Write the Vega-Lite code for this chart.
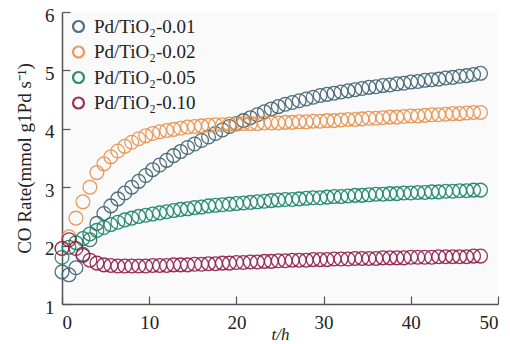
{
  "$schema": "https://vega.github.io/schema/vega-lite/v6.json",
  "width": 436,
  "height": 292,
  "autosize": {"type": "none"},
  "padding": {"left": 62, "top": 12, "right": 12, "bottom": 40},
  "background": "white",
  "config": {
    "view": {"fill": "#fafafa", "stroke": null},
    "font": "Liberation Serif"
  },
  "data": {
    "values": [
      {"s":"0.01","t":0,"v":1.55},{"s":"0.01","t":0.8,"v":1.5},{"s":"0.01","t":1.6,"v":1.62},{"s":"0.01","t":2.4,"v":1.85},{"s":"0.01","t":3.2,"v":2.1},{"s":"0.01","t":4,"v":2.38},{"s":"0.01","t":4.8,"v":2.55},{"s":"0.01","t":5.6,"v":2.68},{"s":"0.01","t":6.4,"v":2.8},{"s":"0.01","t":7.2,"v":2.9},{"s":"0.01","t":8,"v":3.0},{"s":"0.01","t":8.8,"v":3.1},{"s":"0.01","t":9.6,"v":3.2},{"s":"0.01","t":10.4,"v":3.3},{"s":"0.01","t":11.2,"v":3.38},{"s":"0.01","t":12,"v":3.46},{"s":"0.01","t":12.8,"v":3.54},{"s":"0.01","t":13.6,"v":3.61},{"s":"0.01","t":14.4,"v":3.68},{"s":"0.01","t":15.2,"v":3.74},{"s":"0.01","t":16,"v":3.8},{"s":"0.01","t":16.8,"v":3.86},{"s":"0.01","t":17.6,"v":3.92},{"s":"0.01","t":18.4,"v":3.98},{"s":"0.01","t":19.2,"v":4.04},{"s":"0.01","t":20,"v":4.09},{"s":"0.01","t":20.8,"v":4.14},{"s":"0.01","t":21.6,"v":4.19},{"s":"0.01","t":22.4,"v":4.24},{"s":"0.01","t":23.2,"v":4.29},{"s":"0.01","t":24,"v":4.34},{"s":"0.01","t":24.8,"v":4.38},{"s":"0.01","t":25.6,"v":4.42},{"s":"0.01","t":26.4,"v":4.45},{"s":"0.01","t":27.2,"v":4.48},{"s":"0.01","t":28,"v":4.51},{"s":"0.01","t":28.8,"v":4.54},{"s":"0.01","t":29.6,"v":4.57},{"s":"0.01","t":30.4,"v":4.59},{"s":"0.01","t":31.2,"v":4.61},{"s":"0.01","t":32,"v":4.63},{"s":"0.01","t":32.8,"v":4.65},{"s":"0.01","t":33.6,"v":4.67},{"s":"0.01","t":34.4,"v":4.69},{"s":"0.01","t":35.2,"v":4.71},{"s":"0.01","t":36,"v":4.72},{"s":"0.01","t":36.8,"v":4.74},{"s":"0.01","t":37.6,"v":4.75},{"s":"0.01","t":38.4,"v":4.77},{"s":"0.01","t":39.2,"v":4.78},{"s":"0.01","t":40,"v":4.8},{"s":"0.01","t":40.8,"v":4.81},{"s":"0.01","t":41.6,"v":4.83},{"s":"0.01","t":42.4,"v":4.84},{"s":"0.01","t":43.2,"v":4.85},{"s":"0.01","t":44,"v":4.87},{"s":"0.01","t":44.8,"v":4.88},{"s":"0.01","t":45.6,"v":4.9},{"s":"0.01","t":46.4,"v":4.91},{"s":"0.01","t":47.2,"v":4.93},{"s":"0.01","t":48,"v":4.95},
      {"s":"0.02","t":0,"v":1.95},{"s":"0.02","t":0.8,"v":2.15},{"s":"0.02","t":1.6,"v":2.47},{"s":"0.02","t":2.4,"v":2.75},{"s":"0.02","t":3.2,"v":3.0},{"s":"0.02","t":4,"v":3.25},{"s":"0.02","t":4.8,"v":3.4},{"s":"0.02","t":5.6,"v":3.52},{"s":"0.02","t":6.4,"v":3.62},{"s":"0.02","t":7.2,"v":3.7},{"s":"0.02","t":8,"v":3.77},{"s":"0.02","t":8.8,"v":3.83},{"s":"0.02","t":9.6,"v":3.88},{"s":"0.02","t":10.4,"v":3.92},{"s":"0.02","t":11.2,"v":3.95},{"s":"0.02","t":12,"v":3.97},{"s":"0.02","t":12.8,"v":3.99},{"s":"0.02","t":13.6,"v":4.01},{"s":"0.02","t":14.4,"v":4.03},{"s":"0.02","t":15.2,"v":4.04},{"s":"0.02","t":16,"v":4.05},{"s":"0.02","t":16.8,"v":4.06},{"s":"0.02","t":17.6,"v":4.07},{"s":"0.02","t":18.4,"v":4.07},{"s":"0.02","t":19.2,"v":4.08},{"s":"0.02","t":20,"v":4.08},{"s":"0.02","t":20.8,"v":4.09},{"s":"0.02","t":21.6,"v":4.09},{"s":"0.02","t":22.4,"v":4.09},{"s":"0.02","t":23.2,"v":4.1},{"s":"0.02","t":24,"v":4.1},{"s":"0.02","t":24.8,"v":4.1},{"s":"0.02","t":25.6,"v":4.11},{"s":"0.02","t":26.4,"v":4.11},{"s":"0.02","t":27.2,"v":4.12},{"s":"0.02","t":28,"v":4.12},{"s":"0.02","t":28.8,"v":4.13},{"s":"0.02","t":29.6,"v":4.13},{"s":"0.02","t":30.4,"v":4.14},{"s":"0.02","t":31.2,"v":4.14},{"s":"0.02","t":32,"v":4.15},{"s":"0.02","t":32.8,"v":4.16},{"s":"0.02","t":33.6,"v":4.16},{"s":"0.02","t":34.4,"v":4.17},{"s":"0.02","t":35.2,"v":4.18},{"s":"0.02","t":36,"v":4.18},{"s":"0.02","t":36.8,"v":4.19},{"s":"0.02","t":37.6,"v":4.2},{"s":"0.02","t":38.4,"v":4.2},{"s":"0.02","t":39.2,"v":4.21},{"s":"0.02","t":40,"v":4.22},{"s":"0.02","t":40.8,"v":4.22},{"s":"0.02","t":41.6,"v":4.23},{"s":"0.02","t":42.4,"v":4.24},{"s":"0.02","t":43.2,"v":4.24},{"s":"0.02","t":44,"v":4.25},{"s":"0.02","t":44.8,"v":4.26},{"s":"0.02","t":45.6,"v":4.26},{"s":"0.02","t":46.4,"v":4.27},{"s":"0.02","t":47.2,"v":4.28},{"s":"0.02","t":48,"v":4.28},
      {"s":"0.05","t":0,"v":1.8},{"s":"0.05","t":0.8,"v":1.97},{"s":"0.05","t":1.6,"v":2.05},{"s":"0.05","t":2.4,"v":2.12},{"s":"0.05","t":3.2,"v":2.2},{"s":"0.05","t":4,"v":2.26},{"s":"0.05","t":4.8,"v":2.31},{"s":"0.05","t":5.6,"v":2.36},{"s":"0.05","t":6.4,"v":2.4},{"s":"0.05","t":7.2,"v":2.44},{"s":"0.05","t":8,"v":2.47},{"s":"0.05","t":8.8,"v":2.5},{"s":"0.05","t":9.6,"v":2.52},{"s":"0.05","t":10.4,"v":2.54},{"s":"0.05","t":11.2,"v":2.56},{"s":"0.05","t":12,"v":2.58},{"s":"0.05","t":12.8,"v":2.6},{"s":"0.05","t":13.6,"v":2.62},{"s":"0.05","t":14.4,"v":2.63},{"s":"0.05","t":15.2,"v":2.65},{"s":"0.05","t":16,"v":2.66},{"s":"0.05","t":16.8,"v":2.68},{"s":"0.05","t":17.6,"v":2.69},{"s":"0.05","t":18.4,"v":2.7},{"s":"0.05","t":19.2,"v":2.71},{"s":"0.05","t":20,"v":2.72},{"s":"0.05","t":20.8,"v":2.73},{"s":"0.05","t":21.6,"v":2.74},{"s":"0.05","t":22.4,"v":2.75},{"s":"0.05","t":23.2,"v":2.76},{"s":"0.05","t":24,"v":2.77},{"s":"0.05","t":24.8,"v":2.78},{"s":"0.05","t":25.6,"v":2.79},{"s":"0.05","t":26.4,"v":2.79},{"s":"0.05","t":27.2,"v":2.8},{"s":"0.05","t":28,"v":2.81},{"s":"0.05","t":28.8,"v":2.82},{"s":"0.05","t":29.6,"v":2.82},{"s":"0.05","t":30.4,"v":2.83},{"s":"0.05","t":31.2,"v":2.84},{"s":"0.05","t":32,"v":2.84},{"s":"0.05","t":32.8,"v":2.85},{"s":"0.05","t":33.6,"v":2.86},{"s":"0.05","t":34.4,"v":2.86},{"s":"0.05","t":35.2,"v":2.87},{"s":"0.05","t":36,"v":2.88},{"s":"0.05","t":36.8,"v":2.88},{"s":"0.05","t":37.6,"v":2.89},{"s":"0.05","t":38.4,"v":2.89},{"s":"0.05","t":39.2,"v":2.9},{"s":"0.05","t":40,"v":2.9},{"s":"0.05","t":40.8,"v":2.91},{"s":"0.05","t":41.6,"v":2.91},{"s":"0.05","t":42.4,"v":2.92},{"s":"0.05","t":43.2,"v":2.92},{"s":"0.05","t":44,"v":2.93},{"s":"0.05","t":44.8,"v":2.93},{"s":"0.05","t":45.6,"v":2.94},{"s":"0.05","t":46.4,"v":2.94},{"s":"0.05","t":47.2,"v":2.95},{"s":"0.05","t":48,"v":2.95},
      {"s":"0.10","t":0,"v":1.95},{"s":"0.10","t":0.8,"v":2.1},{"s":"0.10","t":1.6,"v":1.95},{"s":"0.10","t":2.4,"v":1.83},{"s":"0.10","t":3.2,"v":1.75},{"s":"0.10","t":4,"v":1.7},{"s":"0.10","t":4.8,"v":1.67},{"s":"0.10","t":5.6,"v":1.66},{"s":"0.10","t":6.4,"v":1.65},{"s":"0.10","t":7.2,"v":1.65},{"s":"0.10","t":8,"v":1.65},{"s":"0.10","t":8.8,"v":1.65},{"s":"0.10","t":9.6,"v":1.65},{"s":"0.10","t":10.4,"v":1.66},{"s":"0.10","t":11.2,"v":1.66},{"s":"0.10","t":12,"v":1.66},{"s":"0.10","t":12.8,"v":1.67},{"s":"0.10","t":13.6,"v":1.67},{"s":"0.10","t":14.4,"v":1.67},{"s":"0.10","t":15.2,"v":1.68},{"s":"0.10","t":16,"v":1.68},{"s":"0.10","t":16.8,"v":1.69},{"s":"0.10","t":17.6,"v":1.69},{"s":"0.10","t":18.4,"v":1.7},{"s":"0.10","t":19.2,"v":1.7},{"s":"0.10","t":20,"v":1.71},{"s":"0.10","t":20.8,"v":1.71},{"s":"0.10","t":21.6,"v":1.72},{"s":"0.10","t":22.4,"v":1.72},{"s":"0.10","t":23.2,"v":1.73},{"s":"0.10","t":24,"v":1.73},{"s":"0.10","t":24.8,"v":1.74},{"s":"0.10","t":25.6,"v":1.74},{"s":"0.10","t":26.4,"v":1.75},{"s":"0.10","t":27.2,"v":1.75},{"s":"0.10","t":28,"v":1.75},{"s":"0.10","t":28.8,"v":1.76},{"s":"0.10","t":29.6,"v":1.76},{"s":"0.10","t":30.4,"v":1.76},{"s":"0.10","t":31.2,"v":1.77},{"s":"0.10","t":32,"v":1.77},{"s":"0.10","t":32.8,"v":1.77},{"s":"0.10","t":33.6,"v":1.78},{"s":"0.10","t":34.4,"v":1.78},{"s":"0.10","t":35.2,"v":1.78},{"s":"0.10","t":36,"v":1.78},{"s":"0.10","t":36.8,"v":1.79},{"s":"0.10","t":37.6,"v":1.79},{"s":"0.10","t":38.4,"v":1.79},{"s":"0.10","t":39.2,"v":1.79},{"s":"0.10","t":40,"v":1.8},{"s":"0.10","t":40.8,"v":1.8},{"s":"0.10","t":41.6,"v":1.8},{"s":"0.10","t":42.4,"v":1.8},{"s":"0.10","t":43.2,"v":1.81},{"s":"0.10","t":44,"v":1.81},{"s":"0.10","t":44.8,"v":1.81},{"s":"0.10","t":45.6,"v":1.81},{"s":"0.10","t":46.4,"v":1.81},{"s":"0.10","t":47.2,"v":1.82},{"s":"0.10","t":48,"v":1.82}
    ]
  },
  "mark": {"type": "point", "shape": "circle", "filled": false, "size": 190, "strokeWidth": 1.3, "opacity": 0.9},
  "encoding": {
    "x": {
      "field": "t", "type": "quantitative",
      "scale": {"domain": [0, 50], "nice": false, "zero": false},
      "axis": {
        "values": [0, 10, 20, 30, 40, 50],
        "title": "t/h",
        "titleFont": "Liberation Serif", "titleFontStyle": "italic", "titleFontWeight": "normal", "titleFontSize": 17, "titleColor": "#222",
        "titleY": 35, "titleBaseline": "alphabetic",
        "labelFont": "Liberation Serif", "labelFontSize": 19, "labelColor": "#222", "labelPadding": 17,
        "tickSize": -8, "tickColor": "#555", "tickWidth": 1.2,
        "domainColor": "#555", "domainWidth": 1.5,
        "grid": false
      }
    },
    "y": {
      "field": "v", "type": "quantitative",
      "scale": {"domain": [1, 6], "nice": false, "zero": false},
      "axis": {
        "values": [1, 2, 3, 4, 5, 6],
        "title": "CO Rate(mmol g1Pd s⁻¹)",
        "titleFont": "Liberation Serif", "titleFontWeight": "normal", "titleFontSize": 19, "titleColor": "#222",
        "titlePadding": 10,
        "labelFont": "Liberation Serif", "labelFontSize": 19, "labelColor": "#222", "labelPadding": 16, "labelOffset": 3,
        "tickSize": -8, "tickColor": "#555", "tickWidth": 1.2,
        "domainColor": "#555", "domainWidth": 1.5,
        "grid": false
      }
    },
    "color": {
      "field": "s", "type": "nominal",
      "scale": {"domain": ["0.01", "0.02", "0.05", "0.10"], "range": ["#3d6272", "#e8914a", "#168366", "#8e1d47"]},
      "legend": {
        "orient": "none", "legendX": 7, "legendY": 5,
        "title": null,
        "labelExpr": "'Pd/TiO₂-' + datum.label",
        "labelFont": "Liberation Serif", "labelFontSize": 19, "labelColor": "#222",
        "symbolType": "circle", "symbolSize": 120, "symbolStrokeWidth": 2.2, "symbolFillColor": "transparent",
        "rowPadding": 4.5, "labelOffset": 6
      }
    }
  }
}
